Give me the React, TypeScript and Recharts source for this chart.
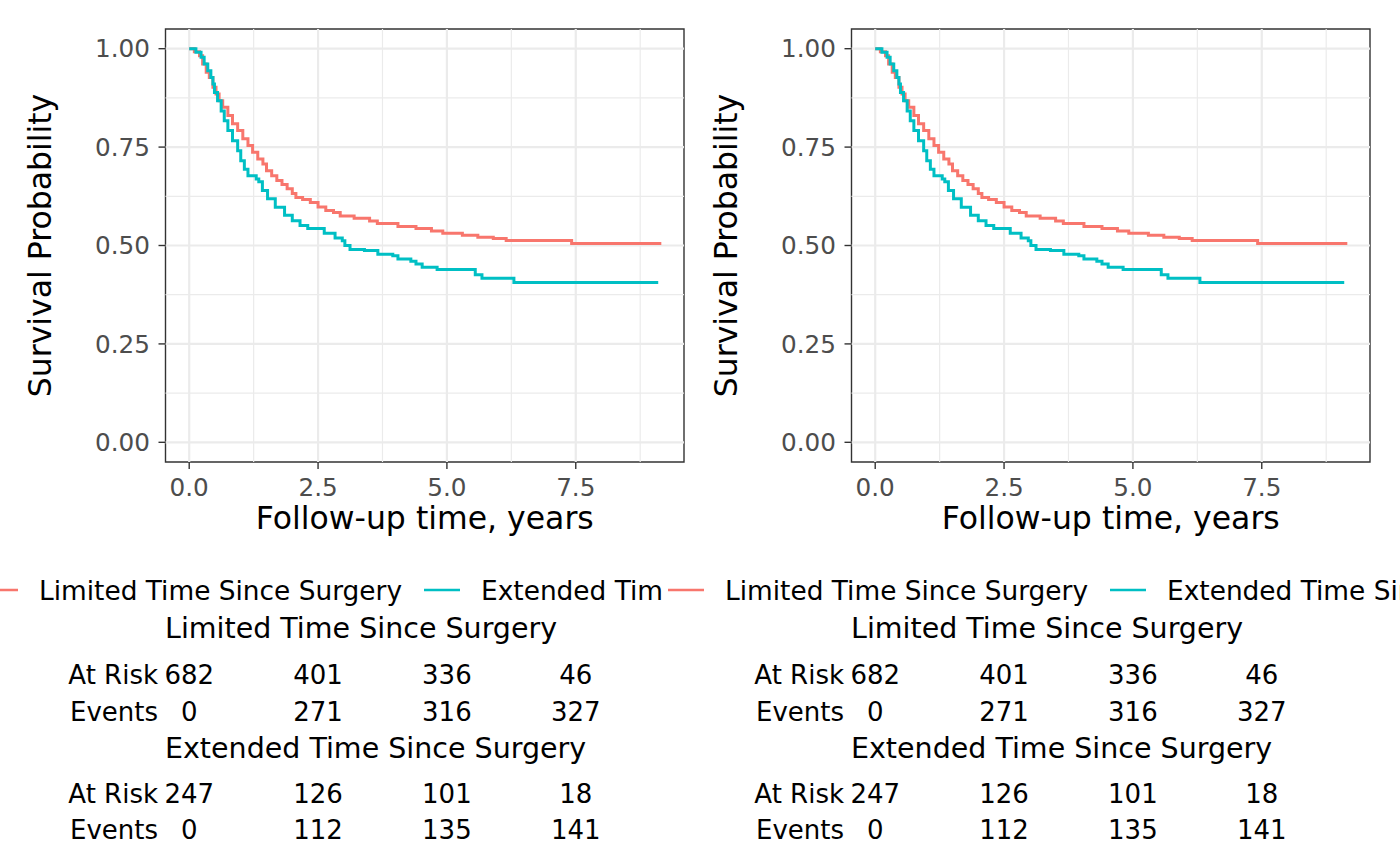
import React from 'react';
import {
  LineChart,
  Line,
  XAxis,
  YAxis,
  ReferenceLine,
  ReferenceArea,
  ScatterChart,
  Scatter,
  Label
} from 'recharts';

// Kaplan-Meier steps (time in years, survival probability)
const limitedTime = [0, 0.1, 0.2, 0.26, 0.33, 0.39, 0.46, 0.52, 0.58, 0.65, 0.75, 0.84, 0.94, 1.04, 1.14, 1.23, 1.33, 1.43, 1.5, 1.6, 1.7, 1.8, 1.9, 2.0, 2.07, 2.2, 2.35, 2.5, 2.65, 2.8, 2.93, 3.2, 3.5, 3.65, 4.05, 4.4, 4.7, 4.92, 5.3, 5.6, 5.9, 6.15, 7.42, 9.16];
const limitedSurv = [1.0, 0.992, 0.982, 0.961, 0.94, 0.927, 0.902, 0.885, 0.868, 0.851, 0.83, 0.809, 0.792, 0.771, 0.754, 0.737, 0.72, 0.707, 0.69, 0.677, 0.665, 0.655, 0.644, 0.632, 0.622, 0.617, 0.609, 0.598, 0.589, 0.584, 0.575, 0.569, 0.562, 0.556, 0.548, 0.543, 0.537, 0.531, 0.526, 0.521, 0.518, 0.513, 0.505, 0.505];

const extendedTime = [0, 0.13, 0.23, 0.29, 0.36, 0.42, 0.46, 0.49, 0.55, 0.62, 0.68, 0.75, 0.84, 0.94, 1.0, 1.07, 1.14, 1.3, 1.35, 1.42, 1.52, 1.67, 1.85, 2.0, 2.15, 2.3, 2.62, 2.83, 2.97, 3.02, 3.12, 3.4, 3.66, 3.95, 4.05, 4.3, 4.4, 4.52, 4.81, 5.55, 5.68, 6.3, 9.1];
const extendedSurv = [1.0, 0.991, 0.978, 0.961, 0.944, 0.927, 0.91, 0.889, 0.868, 0.842, 0.817, 0.792, 0.766, 0.741, 0.715, 0.694, 0.677, 0.669, 0.662, 0.64, 0.619, 0.597, 0.577, 0.563, 0.551, 0.543, 0.531, 0.519, 0.512, 0.5, 0.49, 0.487, 0.478, 0.474, 0.466, 0.46, 0.453, 0.445, 0.439, 0.426, 0.417, 0.406, 0.406];

const groupNames = ['Limited Time Since Surgery', 'Extended Time Since Surgery'];

const riskTimes = [0, 2.5, 5, 7.5];
const limitedAtRisk = [682, 401, 336, 46];
const limitedEvents = [0, 271, 316, 327];
const extendedAtRisk = [247, 126, 101, 18];
const extendedEvents = [0, 112, 135, 141];

const xTicks = [0, 2.5, 5, 7.5];
const xMinor = [1.25, 3.75, 6.25, 8.75];
const yTicks = [0, 0.25, 0.5, 0.75, 1];
const yMinor = [0.125, 0.375, 0.625, 0.875];

const RED = '#F8766D';
const TEAL = '#00BFC4';
const GRID = '#EBEBEB';
const X_DOMAIN: [number, number] = [-0.46, 9.6];
const Y_DOMAIN: [number, number] = [-0.05, 1.05];
const FONT = '"DejaVu Sans", Verdana, sans-serif';

const limitedData = limitedTime.map((t, i) => ({ t, s: limitedSurv[i] }));
const extendedData = extendedTime.map((t, i) => ({ t, s: extendedSurv[i] }));

const rowY: Record<string, number> = { 'At Risk': 1.5, Events: 0.5 };

const riskRows = (atRisk: number[], events: number[]) => [
  ...riskTimes.map((t, i) => ({ t, row: rowY['At Risk'], value: atRisk[i] })),
  ...riskTimes.map((t, i) => ({ t, row: rowY['Events'], value: events[i] }))
];

const NumberCell = (props: any) => (
  <text
    x={props.cx}
    y={props.cy}
    textAnchor="middle"
    dominantBaseline="central"
    fontSize={26}
    fill="#000"
  >
    {props.payload.value}
  </text>
);

const RiskTable = ({ top, height, atRisk, events }: any) => (
  <div style={{ position: 'absolute', left: 0, top }}>
    <ScatterChart width={686} height={height} margin={{ top: 0, right: 2, left: 0, bottom: 0 }}>
      <XAxis type="number" dataKey="t" domain={X_DOMAIN} hide allowDataOverflow />
      <YAxis
        type="number"
        dataKey="row"
        domain={[0, 2]}
        ticks={[1.5, 0.5]}
        width={165.5}
        tickSize={0}
        tickMargin={7.5}
        axisLine={false}
        tickLine={false}
        tick={{ fontSize: 26, fill: '#000' }}
        tickFormatter={(v) => (v > 1 ? 'At Risk' : 'Events')}
      />
      <Scatter data={riskRows(atRisk, events)} shape={NumberCell} isAnimationActive={false} />
    </ScatterChart>
  </div>
);

const xTitle = (props: any) => {
  const vb = props.viewBox || { x: 165.5, y: 462, width: 518.5 };
  return (
    <text x={vb.x + vb.width / 2} y={vb.y + 67} textAnchor="middle" fontSize={31.5} fill="#000">
      Follow-up time, years
    </text>
  );
};

const yTitle = (props: any) => {
  const vb = props.viewBox || { x: 0, y: 29, height: 433 };
  const cy = vb.y + vb.height / 2;
  return (
    <text x={51} y={cy} transform={`rotate(-90, 51, ${cy})`} textAnchor="middle" fontSize={31.5} fill="#000">
      Survival Probability
    </text>
  );
};

// legend box has its own white background, as in the source figure
const Legend = () => (
  <svg width={900} height={50} style={{ position: 'absolute', left: -21, top: 565, overflow: 'visible' }}>
    <rect x={-3} y={0} width={903} height={50} fill="#fff" />
    <line x1={3} x2={39} y1={25} y2={25} stroke={RED} strokeWidth={2.7} />
    <text x={60} y={34.6} fontSize={26.4} fill="#000">{groupNames[0]}</text>
    <line x1={445} x2={481} y1={25} y2={25} stroke={TEAL} strokeWidth={2.7} />
    <text x={502} y={34.6} fontSize={26.4} fill="#000">{groupNames[1]}</text>
  </svg>
);

const TableTitle = ({ top, text }: any) => (
  <div
    style={{
      position: 'absolute',
      left: 165,
      top,
      fontSize: 28.5,
      lineHeight: '34px',
      whiteSpace: 'nowrap',
      color: '#000'
    }}
  >
    {text}
  </div>
);

const Panel = ({ left }: any) => (
  <div style={{ position: 'absolute', left, top: 0, width: 686, height: 866 }}>
    <LineChart width={686} height={545} margin={{ top: 29, right: 2, left: 0, bottom: 0 }}>
      {xMinor.map((v) => (
        <ReferenceLine key={'xm' + v} x={v} stroke={GRID} strokeWidth={1.2} />
      ))}
      {yMinor.map((v) => (
        <ReferenceLine key={'ym' + v} y={v} stroke={GRID} strokeWidth={1.2} />
      ))}
      {xTicks.map((v) => (
        <ReferenceLine key={'xM' + v} x={v} stroke={GRID} strokeWidth={2.2} />
      ))}
      {yTicks.map((v) => (
        <ReferenceLine key={'yM' + v} y={v} stroke={GRID} strokeWidth={2.2} />
      ))}
      <XAxis
        type="number"
        dataKey="t"
        domain={X_DOMAIN}
        ticks={xTicks}
        allowDataOverflow
        height={83}
        tickSize={7}
        tickMargin={9}
        axisLine={false}
        tickLine={{ stroke: '#333333', strokeWidth: 1.4 }}
        tick={{ fontSize: 24.7, fill: '#4D4D4D' }}
        tickFormatter={(v) => v.toFixed(1)}
      >
        <Label content={xTitle} />
      </XAxis>
      <YAxis
        type="number"
        domain={Y_DOMAIN}
        ticks={yTicks}
        allowDataOverflow
        width={165.5}
        tickSize={7}
        tickMargin={8.5}
        axisLine={false}
        tickLine={{ stroke: '#333333', strokeWidth: 1.4 }}
        tick={{ fontSize: 24.7, fill: '#4D4D4D' }}
        tickFormatter={(v) => v.toFixed(2)}
      >
        <Label content={yTitle} />
      </YAxis>
      <Line
        data={limitedData}
        dataKey="s"
        type="stepAfter"
        stroke={RED}
        strokeWidth={3}
        dot={false}
        activeDot={false}
        isAnimationActive={false}
      />
      <Line
        data={extendedData}
        dataKey="s"
        type="stepAfter"
        stroke={TEAL}
        strokeWidth={3}
        dot={false}
        activeDot={false}
        isAnimationActive={false}
      />
      <ReferenceArea
        x1={X_DOMAIN[0]}
        x2={X_DOMAIN[1]}
        y1={Y_DOMAIN[0]}
        y2={Y_DOMAIN[1]}
        fill="none"
        stroke="#333333"
        strokeWidth={1.4}
        ifOverflow="visible"
      />
    </LineChart>
    <Legend />
    <TableTitle top={612} text={groupNames[0]} />
    <RiskTable top={655.5} height={74} atRisk={limitedAtRisk} events={limitedEvents} />
    <TableTitle top={732} text={groupNames[1]} />
    <RiskTable top={776} height={72} atRisk={extendedAtRisk} events={extendedEvents} />
  </div>
);

export default function App() {
  return (
    <div
      style={{
        position: 'absolute',
        left: 0,
        top: 0,
        width: 1400,
        height: 866,
        overflow: 'hidden',
        background: '#fff',
        fontFamily: FONT
      }}
    >
      <Panel left={0} />
      <Panel left={686} />
    </div>
  );
}
